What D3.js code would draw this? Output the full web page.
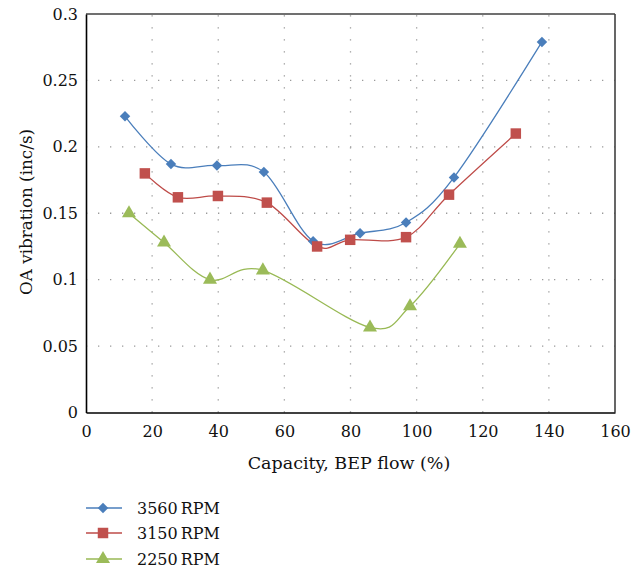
<!DOCTYPE html>
<html><head><meta charset="utf-8">
<script src="https://cdn.jsdelivr.net/npm/d3@7"></script>
<style>body{margin:0;background:#fff}svg{display:block}
text{font-family:"DejaVu Serif",serif;font-size:16px;fill:#111}</style>
</head><body>
<script>
const xTicks = [0,20,40,60,80,100,120,140,160];
const yTicks = [0,0.05,0.1,0.15,0.2,0.25,0.3];
const yTickLabels = ["0","0.05","0.1","0.15","0.2","0.25","0.3"];
const s3560x = [11.8,25.7,39.6,53.8,68.7,82.9,96.8,111.3,137.9];
const s3560y = [0.223,0.187,0.186,0.181,0.129,0.135,0.143,0.177,0.279];
const s3150x = [17.8,27.8,39.9,54.7,69.9,79.9,96.8,109.8,130];
const s3150y = [0.180,0.162,0.163,0.158,0.125,0.130,0.132,0.164,0.210];
const s2250x = [13.0,23.6,37.5,53.5,85.9,98.0,113.1];
const s2250y = [0.150,0.128,0.100,0.107,0.064,0.080,0.127];
const seriesNames = ["3560 RPM","3150 RPM","2250 RPM"];

const W=631,H=575;
const svg=d3.select("body").append("svg").attr("width",W).attr("height",H);
const x=d3.scaleLinear().domain([0,160]).range([86,615]);
const y=d3.scaleLinear().domain([0,0.3]).range([412.5,14]);

// grid
const g=svg.append("g");
g.selectAll(".vg").data(xTicks.slice(1,-1)).join("line")
 .attr("x1",d=>x(d)).attr("x2",d=>x(d)).attr("y1",y(0)).attr("y2",y(0.3))
 .attr("stroke","#9a9a9a").attr("stroke-width",1.3).attr("stroke-dasharray","1.3,10.7");
g.selectAll(".hg").data(yTicks.slice(1,-1)).join("line")
 .attr("x1",x(0)).attr("x2",x(160)).attr("y1",d=>y(d)).attr("y2",d=>y(d))
 .attr("stroke","#9a9a9a").attr("stroke-width",1.3).attr("stroke-dasharray","1.3,10.7");

// frame
svg.append("line").attr("x1",x(0)).attr("x2",x(160)).attr("y1",y(0.3)).attr("y2",y(0.3)).attr("stroke","#404040").attr("stroke-width",1.6);
svg.append("line").attr("x1",x(160)).attr("x2",x(160)).attr("y1",y(0.3)).attr("y2",y(0)).attr("stroke","#404040").attr("stroke-width",1.6);

// axes
const xa=svg.append("g").attr("transform",`translate(0,${y(0)})`)
 .call(d3.axisBottom(x).tickValues(xTicks).tickSize(0).tickPadding(13).tickFormat(d3.format("d")));
const ya=svg.append("g").attr("transform",`translate(${x(0)},0)`)
 .call(d3.axisLeft(y).tickValues(yTicks).tickSize(0).tickPadding(8).tickFormat((d,i)=>yTickLabels[i]));
[xa,ya].forEach(a=>{a.select(".domain").attr("stroke","#000").attr("stroke-width",1.6);
 a.selectAll("text").attr("font-family",null).attr("font-size",null).attr("fill",null);});

// labels
svg.append("text").attr("x",349).attr("y",469).attr("text-anchor","middle").style("font-size","17.5px").text("Capacity, BEP flow (%)");
svg.append("text").attr("transform",`translate(32,212) rotate(-90)`).attr("text-anchor","middle").style("font-size","16.8px").text("OA vibration (inc/s)");

const series=[
 {name:seriesNames[0],xs:s3560x,ys:s3560y,line:"#4a7ebb",fill:"#4a7ebb",sym:d3.symbolSquare,size:55,rot:45},
 {name:seriesNames[1],xs:s3150x,ys:s3150y,line:"#be4b48",fill:"#c0504d",sym:d3.symbolSquare,size:110,rot:0},
 {name:seriesNames[2],xs:s2250x,ys:s2250y,line:"#98b954",fill:"#9bbb59",sym:d3.symbolTriangle,size:85,rot:0}
];
const line=d3.line().curve(d3.curveCatmullRom.alpha(0)).x(d=>x(d[0])).y(d=>y(d[1]));
series.forEach(s=>{
 const pts=s.xs.map((v,i)=>[v,s.ys[i]]);
 svg.append("path").attr("d",line(pts)).attr("fill","none").attr("stroke",s.line).attr("stroke-width",1.3);
});
series.forEach(s=>{
 const pts=s.xs.map((v,i)=>[v,s.ys[i]]);
 svg.append("g").selectAll("path").data(pts).join("path")
  .attr("transform",d=>`translate(${x(d[0])},${y(d[1])}) rotate(${s.rot})`)
  .attr("d",d3.symbol().type(s.sym).size(s.size)).attr("fill",s.fill);
});

// legend
const ly=[508,533,559];
series.forEach((s,i)=>{
 svg.append("line").attr("x1",86).attr("x2",122).attr("y1",ly[i]).attr("y2",ly[i]).attr("stroke",s.line).attr("stroke-width",1.3);
 svg.append("path").attr("transform",`translate(103,${ly[i]}) rotate(${s.rot})`).attr("d",d3.symbol().type(s.sym).size(s.size)).attr("fill",s.fill);
 svg.append("text").attr("x",137).attr("y",ly[i]+6).attr("word-spacing","-2").text(s.name);
});
</script>
</body></html>
